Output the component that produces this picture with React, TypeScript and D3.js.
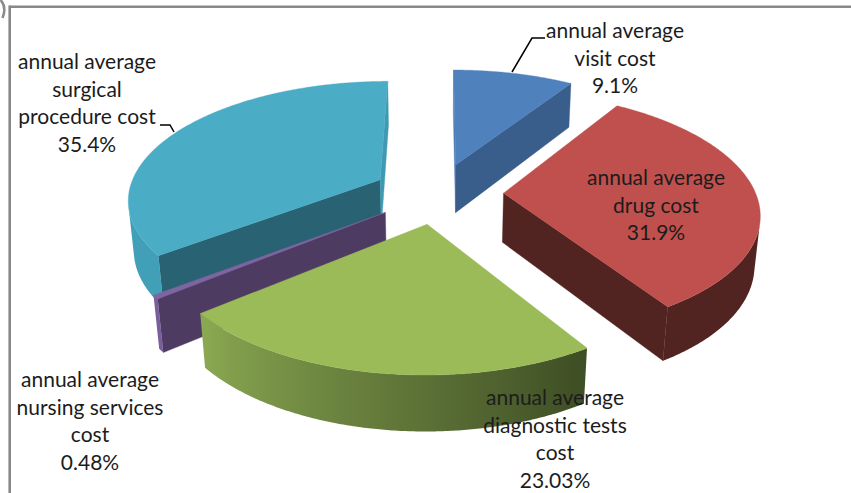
import * as d3 from 'd3';

// cost shares, clockwise from 12 o'clock (Excel order)
const categories = [
  'annual average visit cost',
  'annual average drug cost',
  'annual average diagnostic tests cost',
  'annual average nursing services cost',
  'annual average surgical procedure cost',
];
const values = [9.1, 31.9, 23.03, 0.48, 35.4];
const percentLabels = ['9.1%', '31.9%', '23.03%', '0.48%', '35.4%'];
const labelLines = [
  ['annual average', 'visit cost'],
  ['annual average', 'drug cost'],
  ['annual average', 'diagnostic tests', 'cost'],
  ['annual average', 'nursing services', 'cost'],
  ['annual average', 'surgical', 'procedure cost'],
];

const WIDTH = 851;
const HEIGHT = 493;
const CX = 438;
const CY = 193;
const SCALE = 252;
const TILT = (27.7 * Math.PI) / 180;
const DIST = 5.82;
const DEPTH = 0.224;
const EXPLODE = 0.26;
const FONT = 'Lato, "Open Sans", sans-serif';
const FONT_SIZE = 21;
const LINE_H = 27.5;

const SLICE_STYLE = [
  { top: '#4F81BD', start: '#4B7BB6', end: '#395E8C', dark: '#4A78B0', light: '#4A78B0' },
  { top: '#C0504D', start: '#512321', end: '#512321', dark: '#512321', light: '#512321' },
  { top: '#9BBB59', start: '#6F8B3E', end: '#6F8B3E', dark: '#3F4F25', light: '#8BA952' },
  { top: '#8064A2', start: '#4E3B62', end: '#4E3B62', dark: '#7A5E9C', light: '#7A5E9C' },
  { top: '#4BACC6', start: '#296373', end: '#3E9AB2', dark: '#3E9AB2', light: '#41A0B8' },
];

// label anchor: centre x, baseline of first line
const LABEL_POS = [
  { x: 615, y: 38 },
  { x: 656, y: 185 },
  { x: 555, y: 405 },
  { x: 90, y: 387 },
  { x: 87, y: 69 },
];

const LEADERS = [
  'M545,38 L532,38 L512,72',
  '',
  '',
  '',
  'M160,125 L170,125 L174,132',
];

const cosT = Math.cos(TILT);
const sinT = Math.sin(TILT);
const EYE = [0, DIST * sinT, -DIST * cosT];

function project(x: number, y: number, z: number): [number, number] {
  const yy = y * cosT + z * sinT;
  const zz = z * cosT - y * sinT;
  const s = DIST / (DIST + zz);
  return [CX + x * s * SCALE, CY - yy * s * SCALE];
}

function facing(n: number[], p: number[]) {
  return n[0] * (EYE[0] - p[0]) + n[1] * (EYE[1] - p[1]) + n[2] * (EYE[2] - p[2]) > 0;
}

const poly = (pts: [number, number][]) =>
  'M' + pts.map((p) => `${p[0].toFixed(2)},${p[1].toFixed(2)}`).join('L') + 'Z';

export default function App() {
  const arcs = d3
    .pie<number>()
    .sort(null)
    .value((d) => d)
    .startAngle(0)
    .endAngle(2 * Math.PI)(values);

  const slices = arcs.map((a, i) => {
    const mid = (a.startAngle + a.endAngle) / 2;
    const ox = EXPLODE * Math.sin(mid);
    const oz = EXPLODE * Math.cos(mid);
    const rim = (t: number, y: number) => [ox + Math.sin(t), y, oz + Math.cos(t)];
    const steps = Math.max(2, Math.ceil((a.endAngle - a.startAngle) / (Math.PI / 360)));
    const thetas = d3.range(steps + 1).map((k) => a.startAngle + ((a.endAngle - a.startAngle) * k) / steps);
    const style = SLICE_STYLE[i];

    const topPts: [number, number][] = [project(ox, 0, oz), ...thetas.map((t) => project(ox + Math.sin(t), 0, oz + Math.cos(t)))];

    const faces: { d: string; fill: string }[] = [];
    // cut faces
    [
      { t: a.startAngle, n: [-Math.cos(a.startAngle), 0, Math.sin(a.startAngle)], fill: style.start },
      { t: a.endAngle, n: [Math.cos(a.endAngle), 0, -Math.sin(a.endAngle)], fill: style.end },
    ].forEach((f) => {
      const mp = [ox + 0.5 * Math.sin(f.t), -DEPTH / 2, oz + 0.5 * Math.cos(f.t)];
      if (!facing(f.n, mp)) return;
      const r0 = rim(f.t, 0);
      const r1 = rim(f.t, -DEPTH);
      faces.push({
        d: poly([project(ox, 0, oz), project(r0[0], r0[1], r0[2]), project(r1[0], r1[1], r1[2]), project(ox, -DEPTH, oz)]),
        fill: f.fill,
      });
    });

    // outer side
    const vis = thetas.filter((t) => facing([Math.sin(t), 0, Math.cos(t)], rim(t, -DEPTH / 2)));
    let side: { d: string; grad: { x1: number; x2: number; stops: { o: number; c: string }[] } | null; fill: string } | null = null;
    if (vis.length > 1) {
      const upper = vis.map((t) => { const p = rim(t, 0); return project(p[0], p[1], p[2]); });
      const lower = vis.map((t) => { const p = rim(t, -DEPTH); return project(p[0], p[1], p[2]); }).reverse();
      const shade = d3.interpolateRgb(style.dark, style.light);
      const tOf = (t: number) => Math.min(1, Math.max(0, ((t * 180) / Math.PI - 150) / 80));
      const x1 = upper[0][0];
      const x2 = upper[upper.length - 1][0];
      const grad = Math.abs(x2 - x1) > 4 && style.dark !== style.light
        ? { x1, x2, stops: vis.filter((_, k) => k % 6 === 0 || k === vis.length - 1).map((t) => {
            const p = rim(t, 0);
            const X = project(p[0], p[1], p[2])[0];
            return { o: (X - x1) / (x2 - x1), c: shade(tOf(t)) };
          }) }
        : null;
      side = { d: poly([...upper, ...lower]), grad, fill: shade(0.5) };
    }

    return { i, oz, top: poly(topPts), faces, side, style };
  });

  const order = [...slices].sort((a, b) => b.oz - a.oz);

  return (
    <div style={{ position: 'absolute', left: 0, top: 0 }}>
      <svg width={WIDTH} height={HEIGHT} style={{ display: 'block', background: '#fff' }}>
        <defs>
          {slices.map((s) =>
            s.side && s.side.grad ? (
              <linearGradient key={s.i} id={`side-${s.i}`} gradientUnits="userSpaceOnUse" x1={s.side.grad.x1} x2={s.side.grad.x2} y1={0} y2={0}>
                {s.side.grad.stops.map((st, k) => (
                  <stop key={k} offset={st.o} stopColor={st.c} />
                ))}
              </linearGradient>
            ) : null
          )}
        </defs>

        {/* chart area frame */}
        <path d="M0.5,0 Q7,7 2.5,18" fill="none" stroke="#8a8a8a" strokeWidth={2.5} />
        <line x1={9.7} y1={6.8} x2={WIDTH} y2={6.8} stroke="#888" strokeWidth={2.6} />
        <line x1={9.7} y1={5.5} x2={9.7} y2={HEIGHT} stroke="#888" strokeWidth={2.6} />

        {order.map((s) => (
          <g key={s.i} data-name={categories[s.i]}>
            {s.faces.map((f, k) => (
              <path key={k} d={f.d} fill={f.fill} stroke={f.fill} strokeWidth={0.4} />
            ))}
            {s.side && (
              <path d={s.side.d} fill={s.side.grad ? `url(#side-${s.i})` : s.side.fill} />
            )}
            <path d={s.top} fill={s.style.top} stroke={s.style.top} strokeWidth={0.4} />
          </g>
        ))}

        {LEADERS.map((d, i) => (d ? <path key={i} d={d} fill="none" stroke="#000" strokeWidth={1.5} /> : null))}

        {labelLines.map((lines, i) => (
          <text key={i} x={LABEL_POS[i].x} y={LABEL_POS[i].y} textAnchor="middle" fontFamily={FONT} fontSize={FONT_SIZE} fill="#1c1c1c">
            {[...lines, percentLabels[i]].map((ln, k) => (
              <tspan key={k} x={LABEL_POS[i].x} dy={k === 0 ? 0 : LINE_H}>
                {ln}
              </tspan>
            ))}
          </text>
        ))}
      </svg>
    </div>
  );
}
